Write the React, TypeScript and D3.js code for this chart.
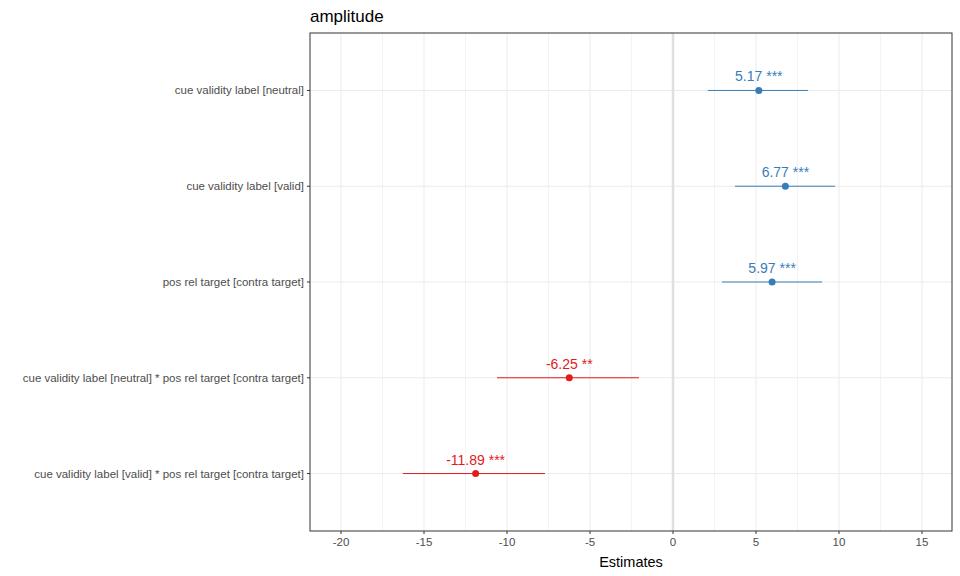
import * as d3 from 'd3';

const terms = [
  'cue validity label [neutral]',
  'cue validity label [valid]',
  'pos rel target [contra target]',
  'cue validity label [neutral] * pos rel target [contra target]',
  'cue validity label [valid] * pos rel target [contra target]',
];
const estimates = [5.17, 6.77, 5.97, -6.25, -11.89];
const lower = [2.1, 3.73, 2.95, -10.6, -16.27];
const upper = [8.13, 9.76, 8.98, -2.05, -7.71];
const stars = ['***', '***', '***', '**', '***'];
const xTicks = [-20, -15, -10, -5, 0, 5, 10, 15];

const W = 960, H = 576;
const m = { left: 310, right: 8, top: 33, bottom: 45 };

export default function App() {
  const x = d3.scaleLinear().domain([-20, 15]).range([341, 922]);
  const y = d3.scalePoint<string>().domain(terms).range([m.top, H - m.bottom]).padding(0.6);
  const minor = d3.range(-22.5, 17.6, 2.5).filter(v => x(v) > m.left && x(v) < W - m.right);
  const font = 'Liberation Sans, Arial, sans-serif';
  const color = (v: number) => (v > 0 ? '#377eb8' : '#e41a1c');
  return (
    <svg width={W} height={H} style={{ position: 'absolute', left: 0, top: 0 }} fontFamily={font}>
      <rect width={W} height={H} fill="white" />
      {minor.map(v => (
        <line key={'g' + v} x1={x(v)} x2={x(v)} y1={m.top} y2={H - m.bottom} stroke="#ebebeb" strokeWidth={v % 5 === 0 ? 1 : 0.6} />
      ))}
      {terms.map(t => (
        <line key={'h' + t} x1={m.left} x2={W - m.right} y1={y(t)} y2={y(t)} stroke="#ebebeb" />
      ))}
      <line x1={x(0)} x2={x(0)} y1={m.top} y2={H - m.bottom} stroke="#e0e0e0" strokeWidth={2.5} />
      {terms.map((t, i) => (
        <g key={t}>
          <line x1={x(lower[i])} x2={x(upper[i])} y1={y(t)} y2={y(t)} stroke={color(estimates[i])} strokeWidth={1} />
          <circle cx={x(estimates[i])} cy={y(t)} r={3.5} fill={color(estimates[i])} />
          <text x={x(estimates[i])} y={y(t)! - 9} textAnchor="middle" fontSize={14} fill={color(estimates[i])}>
            {estimates[i].toFixed(2)} {stars[i]}
          </text>
          <text x={m.left - 6} y={y(t)! + 4} textAnchor="end" fontSize={11.5} fill="#4d4d4d">{t}</text>
          <line x1={m.left - 3} x2={m.left} y1={y(t)} y2={y(t)} stroke="#333" />
        </g>
      ))}
      <rect x={m.left} y={m.top} width={W - m.right - m.left} height={H - m.bottom - m.top} fill="none" stroke="#333" />
      {xTicks.map(v => (
        <g key={v}>
          <line x1={x(v)} x2={x(v)} y1={H - m.bottom} y2={H - m.bottom + 3} stroke="#333" />
          <text x={x(v)} y={H - m.bottom + 15} textAnchor="middle" fontSize={11.5} fill="#4d4d4d">{v}</text>
        </g>
      ))}
      <text x={(m.left + W - m.right) / 2} y={567} textAnchor="middle" fontSize={14.5}>Estimates</text>
      <text x={m.left} y={22} fontSize={17}>amplitude</text>
    </svg>
  );
}
